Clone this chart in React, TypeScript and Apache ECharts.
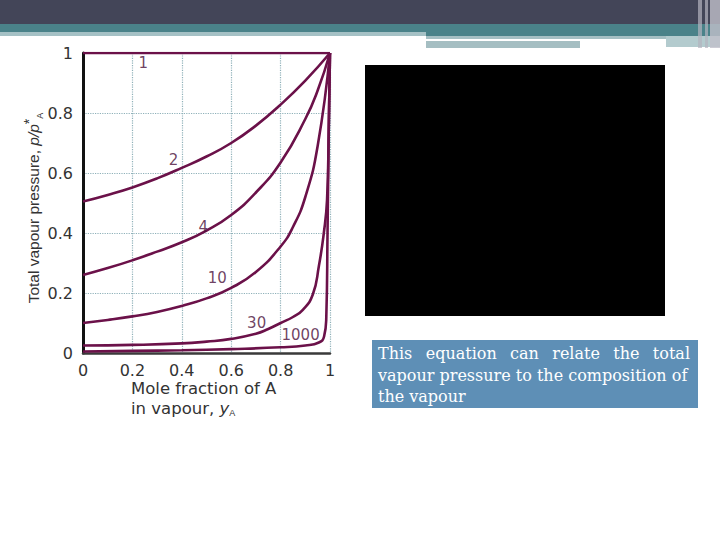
import React, { useEffect, useRef } from 'react';
import * as echarts from 'echarts';

// p/pA* against yA, one curve per ratio pA*/pB*
const curveNames = ['1', '2', '4', '10', '30', '1000'];
const curve1 = [[0, 1], [1, 1]];
const curve2 = [[0, 0.505], [0.1, 0.527], [0.2, 0.552], [0.3, 0.582], [0.4, 0.617], [0.5, 0.655], [0.6, 0.7], [0.7, 0.758], [0.8, 0.828], [0.9, 0.908], [1, 1]];
const curve4 = [[0, 0.26], [0.1, 0.283], [0.2, 0.309], [0.3, 0.338], [0.4, 0.369], [0.5, 0.408], [0.6, 0.46], [0.7, 0.535], [0.8, 0.635], [0.9, 0.78], [0.95, 0.875], [1, 1]];
const curve10 = [[0, 0.1], [0.1, 0.11], [0.2, 0.122], [0.3, 0.137], [0.4, 0.157], [0.5, 0.182], [0.6, 0.217], [0.7, 0.27], [0.8, 0.355], [0.85, 0.42], [0.9, 0.52], [0.95, 0.69], [1, 1]];
const curve30 = [[0, 0.025], [0.2, 0.027], [0.4, 0.032], [0.5, 0.038], [0.6, 0.047], [0.7, 0.064], [0.75, 0.08], [0.8, 0.1], [0.85, 0.12], [0.89, 0.144], [0.93, 0.194], [0.955, 0.29], [0.975, 0.4], [0.988, 0.51], [0.995, 0.75], [1, 1]];
const curve1000 = [[0, 0.005], [0.2, 0.007], [0.4, 0.009], [0.6, 0.013], [0.8, 0.019], [0.9, 0.025], [0.955, 0.035], [0.976, 0.055], [0.985, 0.12], [0.99, 0.4], [0.995, 0.75], [1, 1]];
const curves = [curve1, curve2, curve4, curve10, curve30, curve1000];

// where each curve's number sits, in data units
const labelSpots = [[0.244, 0.968], [0.366, 0.643], [0.487, 0.421], [0.544, 0.249], [0.703, 0.101], [0.881, 0.06]];

const lineColor = '#6b1149';
const noteLine1 = ['This', 'equation', 'can', 'relate', 'the', 'total'];
const noteLine2 = 'vapour pressure to the composition of';
const noteLine3 = 'the vapour';

const App = () => {
  const chartRef = useRef(null);

  useEffect(() => {
    const chart = echarts.init(chartRef.current, null, { renderer: 'svg' });

    const serif = { fontFamily: 'DejaVu Serif', fontSize: 16, fill: '#fff' };

    // justify the first line of the note between 378 and 690
    const ctx = document.createElement('canvas').getContext('2d');
    ctx.font = '16px "DejaVu Serif"';
    const widths = noteLine1.map((w) => ctx.measureText(w).width);
    const gap = (690 - 378 - widths.reduce((a, b) => a + b, 0)) / (noteLine1.length - 1);
    let cursor = 378;
    const line1X = widths.map((w) => {
      const x = cursor;
      cursor += w + gap;
      return x;
    });

    const option = {
      animation: false,
      grid: { left: 83, top: 53, width: 247, height: 300 },
      xAxis: {
        type: 'value',
        min: 0,
        max: 1,
        interval: 0.2,
        axisLine: { lineStyle: { color: '#3a3a3a', width: 2.5 } },
        axisTick: { show: false },
        axisLabel: { color: '#333', fontSize: 16, fontFamily: 'DejaVu Sans', margin: 9 },
        splitLine: { lineStyle: { color: '#8fb1b9', type: 'dotted', width: 1.2 } }
      },
      yAxis: {
        type: 'value',
        min: 0,
        max: 1,
        interval: 0.2,
        axisLine: { show: true, lineStyle: { color: '#111', width: 3 } },
        axisTick: { show: false },
        axisLabel: { color: '#333', fontSize: 16, fontFamily: 'DejaVu Sans', margin: 10 },
        splitLine: { lineStyle: { color: '#8fb1b9', type: 'dotted', width: 1.2 } }
      },
      series: [
        ...curves.map((c, i) => ({
          name: curveNames[i],
          type: 'line',
          data: c,
          symbol: 'none',
          smooth: 0.5,
          lineStyle: { color: lineColor, width: 2.6 },
          z: 3
        })),
        {
          type: 'scatter',
          data: labelSpots.map((p, i) => [p[0], p[1], curveNames[i]]),
          symbolSize: 1,
          itemStyle: { color: 'rgba(0,0,0,0)' },
          label: {
            show: true,
            position: 'inside',
            formatter: (p: any) => p.value[2],
            color: '#4a0f3a',
            fontSize: 15,
            fontFamily: 'DejaVu Sans'
          },
          z: 4
        }
      ],
      graphic: [
        // slide header bands
        { type: 'rect', shape: { x: 0, y: 0, width: 720, height: 24 }, style: { fill: '#434558' } },
        { type: 'rect', shape: { x: 0, y: 24, width: 720, height: 8 }, style: { fill: '#4a8289' } },
        { type: 'rect', shape: { x: 0, y: 32, width: 426, height: 4 }, style: { fill: '#a5c1c5' } },
        { type: 'rect', shape: { x: 426, y: 32, width: 294, height: 4 }, style: { fill: '#4a8289' } },
        { type: 'rect', shape: { x: 426, y: 36, width: 240, height: 3 }, style: { fill: '#a5bfc3' } },
        { type: 'rect', shape: { x: 426, y: 41, width: 154, height: 7 }, style: { fill: '#a5bec2' } },
        { type: 'rect', shape: { x: 666, y: 36, width: 54, height: 11 }, style: { fill: '#b3cbce' } },
        { type: 'rect', shape: { x: 698, y: 0, width: 4, height: 48 }, style: { fill: '#b4b3bf', opacity: 0.7 } },
        { type: 'rect', shape: { x: 705, y: 0, width: 3, height: 48 }, style: { fill: '#b4b3bf', opacity: 0.7 } },
        { type: 'rect', shape: { x: 710, y: 0, width: 10, height: 48 }, style: { fill: '#c0bfca', opacity: 0.8 } },
        // black picture block
        { type: 'rect', shape: { x: 365, y: 65, width: 300, height: 251 }, style: { fill: '#000' } },
        // note box
        { type: 'rect', shape: { x: 372, y: 340, width: 326, height: 68 }, style: { fill: '#5e8fb6' } },
        ...noteLine1.map((w, i) => ({
          type: 'text', x: line1X[i], y: 353,
          style: { ...serif, text: w, verticalAlign: 'middle' }
        })),
        { type: 'text', x: 378, y: 375, style: { ...serif, text: noteLine2, verticalAlign: 'middle' } },
        { type: 'text', x: 378, y: 396, style: { ...serif, text: noteLine3, verticalAlign: 'middle' } },
        // axis titles
        {
          type: 'text', x: 33, y: 208, rotation: Math.PI / 2,
          style: {
            text: 'Total vapour pressure, {i|p/p}{sup|*}{sub|A}',
            fontFamily: 'Liberation Sans', fontSize: 15.5, fill: '#333',
            align: 'center', verticalAlign: 'middle',
            rich: {
              i: { fontStyle: 'italic', fontSize: 15.5, fontFamily: 'Liberation Sans', lineHeight: 22 },
              sup: { fontSize: 14, verticalAlign: 'top', lineHeight: 22, padding: [0, 0, 6, 0] },
              sub: { fontSize: 9, verticalAlign: 'bottom', lineHeight: 22 }
            }
          }
        },
        {
          type: 'text', x: 131, y: 380,
          style: { text: 'Mole fraction of A', fontFamily: 'DejaVu Sans', fontSize: 16.5, fill: '#333', align: 'left', verticalAlign: 'top' }
        },
        {
          type: 'text', x: 131, y: 400,
          style: {
            text: 'in vapour, {i|y}{sub|A}',
            fontFamily: 'DejaVu Sans', fontSize: 16.5, fill: '#333',
            align: 'left', verticalAlign: 'top',
            rich: {
              i: { fontStyle: 'italic', fontSize: 16.5, fontFamily: 'DejaVu Sans', lineHeight: 17 },
              sub: { fontSize: 9, verticalAlign: 'bottom', lineHeight: 17 }
            }
          }
        }
      ]
    };

    chart.setOption(option);

    return () => {
      chart.dispose();
    };
  }, []);

  return (
    <div ref={chartRef} style={{ position: 'absolute', left: 0, top: 0, width: '720px', height: '540px' }}></div>
  );
};

export default App;
